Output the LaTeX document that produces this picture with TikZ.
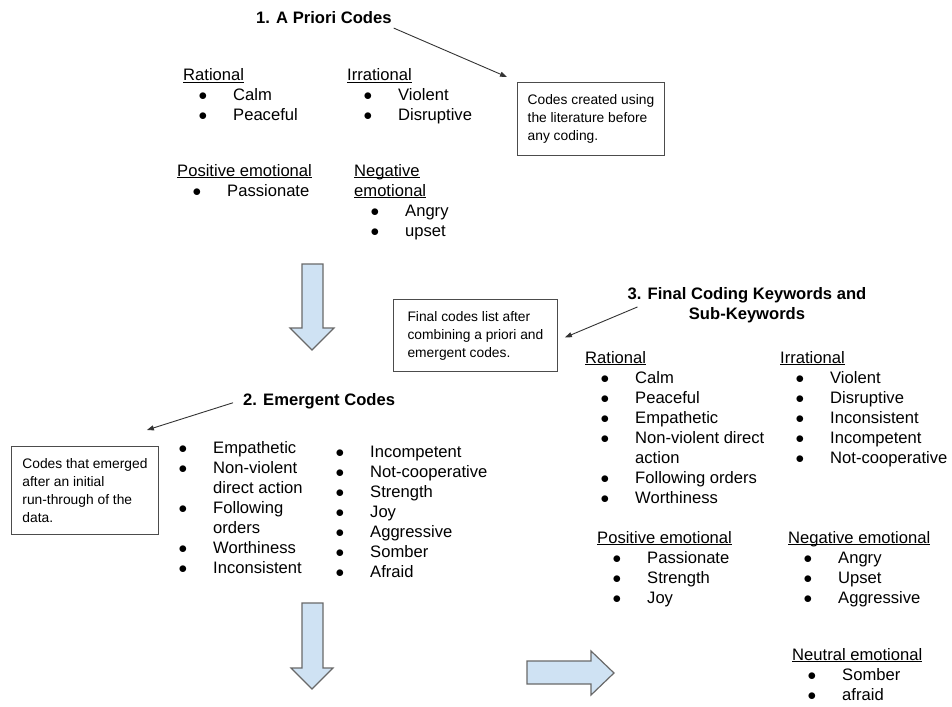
\documentclass[tikz,border=0pt]{standalone}
\usepackage{fontspec}
\setmainfont{Liberation Sans}
\usetikzlibrary{arrows.meta}
\newcommand\bl{\llap{$\bullet$\hspace{26pt}}}
\newcommand\ulin[1]{\setbox0\hbox{#1}\rlap{\rule[-2.3pt]{\wd0}{1.1pt}}\box0}
\definecolor{arrfill}{RGB}{207,226,243}
\definecolor{arrline}{RGB}{105,105,105}
\begin{document}
\begin{tikzpicture}[x=1pt,y=-1pt,
  every node/.style={inner sep=0pt,font=\fontsize{16.6}{20}\selectfont},
  txt/.style={anchor=base west},
  itm/.style={anchor=base west,execute at begin node=\bl},
  hd/.style={anchor=base west,font=\fontsize{16.6}{20}\selectfont\bfseries},
  note/.style={draw=black!70,line width=0.9pt,anchor=north west,align=left,font=\fontsize{13.8}{18}\selectfont},
  ptr/.style={draw=black!80,line width=0.9pt,-{Triangle[length=7pt,width=5pt]}},
  blk/.style={draw=arrline,fill=arrfill,line width=1.2pt,line join=miter}]
\useasboundingbox (0,0) rectangle (952,706);
% 1. a priori codes
\node[hd] (t1) at (256,24) {1. A Priori Codes};
\node[txt] (ra) at (183,81) {\ulin{Rational}};
\node[itm] (ra1) at (233,101) {Calm}; \node[itm] (ra2) at (233,121) {Peaceful};
\node[txt] (ir) at (347,81) {\ulin{Irrational}};
\node[itm] (ir1) at (398,101) {Violent}; \node[itm] (ir2) at (398,121) {Disruptive};
\node[txt] (po) at (177,176) {\ulin{Positive emotional}};
\node[itm] (po1) at (227,196) {Passionate};
\node[txt] (ne) at (354,176) {\ulin{Negative}}; \node[txt] (ne0) at (354,196) {\ulin{emotional}};
\node[itm] (ne1) at (405,216) {Angry}; \node[itm] (ne2) at (405,236) {upset};
\node[note,minimum width=147,minimum height=73] (b1) at (517,82) {Codes created using\\the literature before\\any coding.};
\draw[ptr] ([shift={(2,10)}]t1.east) -- ([shift={(-10,-5)}]b1.north west);
\draw[blk] (302,264) -- (323,264) -- (323,328) -- (334,328) -- (312,350) -- (290,328) -- (302,328) -- cycle;
% 2. emergent codes
\node[hd] (t2) at (243,405) {2. Emergent Codes};
\node[note,minimum width=147,minimum height=88] (b2) at (11,446) {Codes that emerged\\after an initial\\run-through of the\\data.};
\draw[ptr] ([shift={(-10,2)}]t2.west) -- ([shift={(-12,-16)}]b2.north east);
\foreach \y/\t [count=\i] in {453/Empathetic,473/Non-violent,513/Following,553/Worthiness,573/Inconsistent}
  \node[itm] (em\i) at (213,\y) {\t};
\node[txt] (em2b) at (213,493) {direct action}; \node[txt] (em3b) at (213,533) {orders};
\foreach \t [count=\i] in {Incompetent,Not-cooperative,Strength,Joy,Aggressive,Somber,Afraid}
  \node[itm] (en\i) at (370,{437+20*\i}) {\t};
\draw[blk] (302,603) -- (323,603) -- (323,668) -- (333,668) -- (312,689) -- (291,668) -- (302,668) -- cycle;
\draw[blk] (527,661) -- (591,661) -- (591,651) -- (614,673) -- (591,695) -- (591,684) -- (527,684) -- cycle;
% 3. final keywords
\node[hd,anchor=north,align=center] (t3) at (747,287) {3. Final Coding Keywords and\\Sub-Keywords};
\node[note,minimum width=164,minimum height=72] (b3) at (393,299) {Final codes list after\\combining a priori and\\emergent codes.};
\draw[ptr] ([shift={(10,2)}]t3.west) -- ([shift={(7,2)}]b3.east);
\node[txt] (fr) at (585,363) {\ulin{Rational}};
\foreach \y/\t [count=\i] in {383/Calm,403/Peaceful,423/Empathetic,443/Non-violent direct,483/Following orders,503/Worthiness}
  \node[itm] (fr\i) at (635,\y) {\t};
\node[txt] (fr4b) at (635,463) {action};
\node[txt] (fi) at (780,363) {\ulin{Irrational}};
\foreach \t [count=\i] in {Violent,Disruptive,Inconsistent,Incompetent,Not-cooperative}
  \node[itm] (fi\i) at (830,{363+20*\i}) {\t};
\node[txt] (fp) at (597,543) {\ulin{Positive emotional}};
\foreach \t [count=\i] in {Passionate,Strength,Joy} \node[itm] (fp\i) at (647,{543+20*\i}) {\t};
\node[txt] (fn) at (788,543) {\ulin{Negative emotional}};
\foreach \t [count=\i] in {Angry,Upset,Aggressive} \node[itm] (fn\i) at (838,{543+20*\i}) {\t};
\node[txt] (fu) at (792,660) {\ulin{Neutral emotional}};
\foreach \t [count=\i] in {Somber,afraid} \node[itm] (fu\i) at (842,{660+20*\i}) {\t};
\end{tikzpicture}
\end{document}
